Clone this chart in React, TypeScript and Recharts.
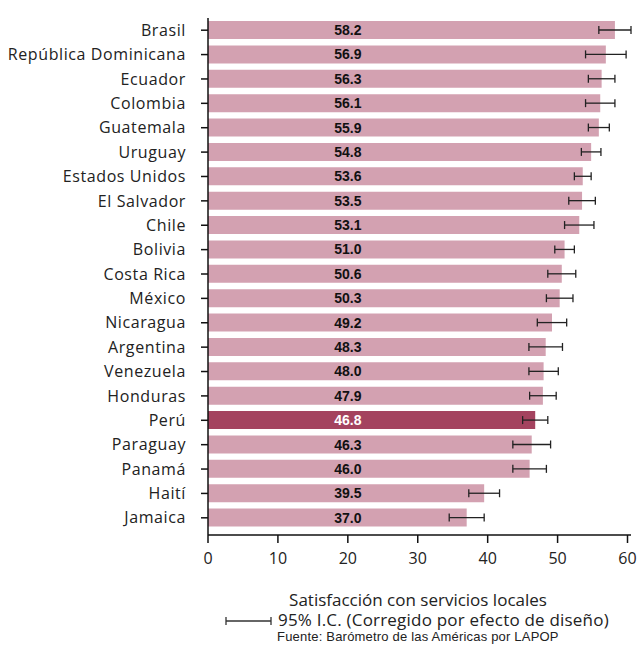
import React from "react";
import { BarChart, Bar, XAxis, YAxis, ErrorBar, Cell, LabelList } from "recharts";

const countries = [
  "Brasil",
  "República Dominicana",
  "Ecuador",
  "Colombia",
  "Guatemala",
  "Uruguay",
  "Estados Unidos",
  "El Salvador",
  "Chile",
  "Bolivia",
  "Costa Rica",
  "México",
  "Nicaragua",
  "Argentina",
  "Venezuela",
  "Honduras",
  "Perú",
  "Paraguay",
  "Panamá",
  "Haití",
  "Jamaica",
];
const values = [58.2, 56.9, 56.3, 56.1, 55.9, 54.8, 53.6, 53.5, 53.1, 51.0, 50.6, 50.3, 49.2, 48.3, 48.0, 47.9, 46.8, 46.3, 46.0, 39.5, 37.0];
// half-width of the 95% interval
const ciHalf = [2.3, 2.9, 1.9, 2.1, 1.5, 1.4, 1.2, 1.9, 2.1, 1.4, 2.0, 1.9, 2.1, 2.4, 2.1, 1.9, 1.8, 2.7, 2.4, 2.2, 2.5];
const xTicks = [0, 10, 20, 30, 40, 50, 60];
const highlight = "Perú";
const labelAt = 20;

const data = countries.map((name, i) => ({ name, value: values[i], ci: ciHalf[i] }));

const FONT = "'Open Sans', 'Liberation Sans', sans-serif";
const PINK = "#d3a1b1";
const DARK = "#a4435f";

const ValueLabel = (props: any) => {
  const { x, y, width, height, value } = props;
  const cx = Number(x) + (Number(width) * labelAt) / Number(value);
  const isHi = data.find((d) => d.value === value)?.name === highlight;
  return (
    <text
      x={cx}
      y={Number(y) + Number(height) / 2}
      dy="0.36em"
      textAnchor="middle"
      fontFamily="'Liberation Sans', Arial, sans-serif"
      fontWeight="bold"
      fontSize={14}
      fill={isHi ? "#ffffff" : "#111111"}
    >
      {Number(value).toFixed(1)}
    </text>
  );
};

export default function App() {
  return (
    <div style={{ position: "absolute", left: 0, top: 0, width: 640, height: 645, background: "#fff" }}>
      <BarChart
        width={640}
        height={645}
        data={data}
        layout="vertical"
        margin={{ top: 18, right: 9, bottom: 70, left: 0 }}
        barSize={18}
      >
        <XAxis
          type="number"
          domain={[0, 60]}
          ticks={xTicks}
          height={40}
          axisLine={{ stroke: "#111", strokeWidth: 1.5 }}
          tickLine={{ stroke: "#111", strokeWidth: 1.5 }}
          tickSize={8}
          tickMargin={10}
          tick={{ fill: "#222", fontSize: 16, fontFamily: FONT }}
        />
        <YAxis
          type="category"
          dataKey="name"
          width={208}
          padding={{ top: 0, bottom: 5 }}
          axisLine={{ stroke: "#111", strokeWidth: 1.5 }}
          tickLine={{ stroke: "#111", strokeWidth: 1.5 }}
          tickSize={7}
          tickMargin={15}
          interval={0}
          tick={{ fill: "#222", fontSize: 16, fontFamily: FONT, letterSpacing: 0.6 }}
        />
        <Bar dataKey="value" isAnimationActive={false}>
          {data.map((d) => (
            <Cell key={d.name} fill={d.name === highlight ? DARK : PINK} />
          ))}
          <ErrorBar dataKey="ci" direction="x" width={4} stroke="#222" strokeWidth={1.3} />
          <LabelList dataKey="value" content={ValueLabel} />
        </Bar>
      </BarChart>
      <div
        style={{
          position: "absolute",
          left: 0,
          top: 591,
          width: 836,
          textAlign: "center",
          fontFamily: FONT,
          fontSize: 17,
          color: "#222",
          lineHeight: "18px",
        }}
      >
        Satisfacción con servicios locales
      </div>
      <svg style={{ position: "absolute", left: 224, top: 615 }} width={50} height={12}>
        <line x1={2} y1={6} x2={47} y2={6} stroke="#333" strokeWidth={1.3} />
        <line x1={2} y1={2} x2={2} y2={10} stroke="#333" strokeWidth={1.3} />
        <line x1={47} y1={2} x2={47} y2={10} stroke="#333" strokeWidth={1.3} />
      </svg>
      <div
        style={{
          position: "absolute",
          left: 278,
          top: 611,
          fontFamily: FONT,
          fontSize: 17,
          letterSpacing: 0.2,
          color: "#222",
          lineHeight: "18px",
          whiteSpace: "nowrap",
        }}
      >
        95% I.C. (Corregido por efecto de diseño)
      </div>
      <div
        style={{
          position: "absolute",
          left: 277,
          top: 630,
          fontFamily: "'Liberation Sans', Arial, sans-serif",
          fontSize: 13,
          letterSpacing: 0.2,
          color: "#222",
          lineHeight: "14px",
          whiteSpace: "nowrap",
        }}
      >
        Fuente: Barómetro de las Américas por LAPOP
      </div>
    </div>
  );
}
